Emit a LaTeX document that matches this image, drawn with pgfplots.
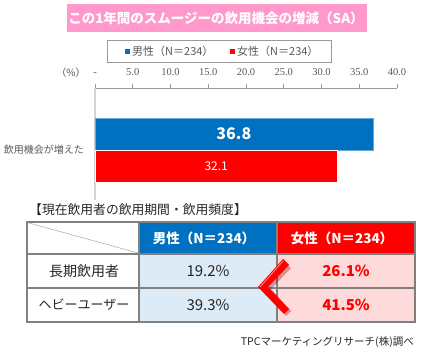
\documentclass[border=0pt]{standalone}
\usepackage{pgfplots}
\pgfplotsset{compat=1.18}
\usepackage{fontspec}
\setmainfont{Noto Sans CJK JP}
\newfontfamily\jp{Noto Sans CJK JP}
\newfontfamily\ser{Liberation Serif}
\definecolor{tpink}{RGB}{255,153,204}
\definecolor{mblue}{RGB}{0,112,192}
\definecolor{fred}{RGB}{255,0,0}
\definecolor{lblue}{RGB}{221,235,247}
\definecolor{lpink}{RGB}{255,218,218}
\definecolor{txtgray}{RGB}{89,89,89}
\definecolor{bordgray}{RGB}{128,128,128}
\begin{document}
\begin{tikzpicture}
\begin{scope}[x=1pt,y=-1pt]
\path[use as bounding box] (0,0) rectangle (427,355);
% title
\fill[tpink] (67,4) rectangle (367,32);
\node[text=white,font=\jp\bfseries\fontsize{13.5}{14}\selectfont,inner sep=0pt] at (216,18) {この1年間のスムージーの飲用機会の増減（SA）};
% legend
\draw[gray!80,line width=0.8pt,fill=white] (107,40) rectangle (331,62);
\fill[mblue] (124.5,49.5) rectangle (129.5,54.5);
\node[anchor=west,inner sep=0pt,text=txtgray,font=\jp\fontsize{11}{12}\selectfont] at (132,51.5) {男性（N＝234）};
\fill[fred] (229.5,49.5) rectangle (234.5,54.5);
\node[anchor=west,inner sep=0pt,text=txtgray,font=\jp\fontsize{11}{12}\selectfont] at (237,51.5) {女性（N＝234）};
% (%)
\node[inner sep=0pt,text=txtgray,font=\jp\fontsize{10}{11}\selectfont] at (71,73) {（\%）};
\end{scope}

\begin{axis}[
  at={(95pt,-200pt)}, anchor=south west,
  scale only axis, width=302pt, height=112pt,
  xmin=0, xmax=40, ymin=0, ymax=112,
  axis x line*=top, axis y line*=left,
  xtick={0,5,10,15,20,25,30,35,40},
  xticklabels={-,5.0,10.0,15.0,20.0,25.0,30.0,35.0,40.0},
  x tick label style={text=txtgray,font=\ser\fontsize{10.5}{11}\selectfont},
  xticklabel shift=5pt,
  tick align=outside, major tick length=4pt,
  x tick style={draw=gray!80,line width=0.8pt},
  x axis line style={draw=gray!80,line width=0.8pt},
  y axis line style={draw=gray!35,line width=1.2pt},
  ytick={50}, yticklabels={飲用機会が増えた},
  y tick style={draw=none},
  y tick label style={text=txtgray,font=\jp\fontsize{10}{11}\selectfont,inner sep=0pt,xshift=-7pt},
  xbar, bar width=32, bar shift=0pt,
  clip=false,
]
\addplot[fill=mblue,draw=mblue!60!white,line width=0.6pt] coordinates {(36.8,66)};
\addplot[fill=fred,draw=white,line width=0.6pt] coordinates {(32.1,33.5)};
\node[text=white,font=\jp\bfseries\fontsize{16}{17}\selectfont] at (axis cs:18.4,66) {36.8};
\node[text=white,font=\jp\fontsize{12}{13}\selectfont] at (axis cs:16.05,33.5) {32.1};
\end{axis}

\begin{scope}[x=1pt,y=-1pt]
% table title
\node[anchor=west,inner sep=0pt,text=black!85,font=\jp\fontsize{12.8}{13}\selectfont] at (29,210) {【現在飲用者の飲用期間・飲用頻度】};
% cells
\fill[white] (27,222) rectangle (139,322);
\fill[mblue] (139,222) rectangle (277,254);
\fill[fred] (277,222) rectangle (415,254);
\fill[lblue] (139,254) rectangle (277,322);
\fill[lpink] (277,254) rectangle (415,322);
\draw[bordgray!70,line width=0.5pt] (29,223) -- (138,253);
% borders
\draw[bordgray,line width=2pt] (27,222) rectangle (415,322);
\draw[bordgray,line width=2pt] (139,222) -- (139,322);
\draw[bordgray,line width=2pt] (277,222) -- (277,322);
\draw[bordgray,line width=2pt] (27,254) -- (415,254);
\draw[bordgray,line width=2pt] (27,288) -- (415,288);
% header text
\node[text=white,font=\jp\bfseries\fontsize{13.5}{14}\selectfont] at (204,238) {男性（N＝234）};
\node[text=white,font=\jp\bfseries\fontsize{13.5}{14}\selectfont] at (342,238) {女性（N＝234）};
% row labels
\node[text=black!85,font=\jp\fontsize{14}{15}\selectfont] at (84,271) {長期飲用者};
\node[text=black!85,font=\jp\fontsize{13}{14}\selectfont] at (84,305) {ヘビーユーザー};
% values
\node[text=black!85,font=\jp\fontsize{15}{16}\selectfont] at (208,271) {19.2\%};
\node[text=black!85,font=\jp\fontsize{15}{16}\selectfont] at (208,305) {39.3\%};
\node[text=fred,font=\jp\bfseries\fontsize{15}{16}\selectfont] at (346,271) {26.1\%};
\node[text=fred,font=\jp\bfseries\fontsize{15}{16}\selectfont] at (346,305) {41.5\%};
% chevron
\fill[red!60!black,opacity=0.35] (285,263) -- (291,268) -- (271,289) -- (291,311) -- (286,316) -- (262,289) -- cycle;
\fill[fred] (283,259) -- (289,265) -- (268,287) -- (289,309) -- (284,314) -- (258,287) -- cycle;
\draw[red!45!white,line width=0.8pt] (260,287) -- (283,261);
% footer
\node[anchor=east,inner sep=0pt,text=black!85,font=\jp\fontsize{10.5}{11}\selectfont] at (414,342) {TPCマーケティングリサーチ(株)調べ};
\end{scope}
\end{tikzpicture}
\end{document}
